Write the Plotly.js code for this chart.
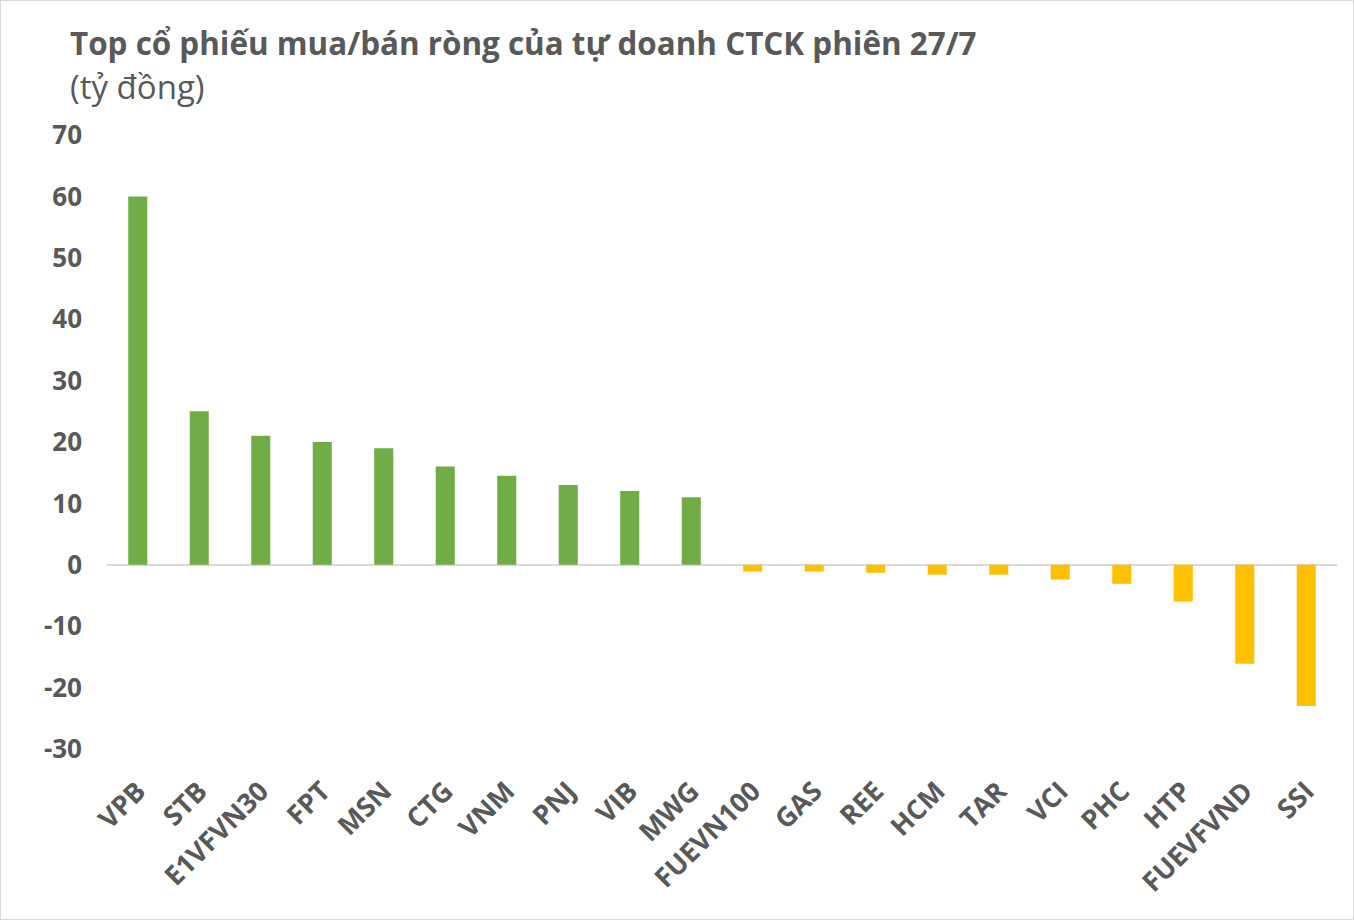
<!DOCTYPE html>
<html>
<head>
<meta charset="utf-8">
<script src="https://cdn.plot.ly/plotly-3.0.1.min.js"></script>
<style>
html,body{margin:0;padding:0;background:#fff;}
#chart{width:1352px;height:918px;border:1px solid #d9d9d9;}
</style>
</head>
<body>
<div id="chart"></div>
<script>
const categories = ["VPB","STB","E1VFVN30","FPT","MSN","CTG","VNM","PNJ","VIB","MWG","FUEVN100","GAS","REE","HCM","TAR","VCI","PHC","HTP","FUEVFVND","SSI"];
const values = [60, 25, 21, 20, 19, 16, 14.5, 13, 12, 11, -1.1, -1.1, -1.3, -1.6, -1.6, -2.4, -3.1, -6, -16.1, -23];
const yTickVals = [-30, -20, -10, 0, 10, 20, 30, 40, 50, 60, 70];
const yTickText = ["-30", "-20", "-10", "0", "10", "20", "30", "40", "50", "60", "70"];
const buyColor = "#70AD47";
const sellColor = "#FFC000";
const colors = values.map(v => v >= 0 ? buyColor : sellColor);
const titleText = "Top cổ phiếu mua/bán ròng của tự doanh CTCK phiên 27/7";
const subtitleText = "(tỷ đồng)";
const fontFam = "'Open Sans', 'Noto Sans', sans-serif";

const trace = {
  type: "bar",
  x: categories,
  y: values,
  marker: {color: colors},
  width: 0.31,
  hoverinfo: "x+y"
};

const ML = 106, MR = 16, MT = 134, MB = 170;
const PW = 1352 - ML - MR, PH = 918 - MT - MB;

const layout = {
  width: 1352, height: 918,
  margin: {l: ML, r: MR, t: MT, b: MB},
  paper_bgcolor: "#fff", plot_bgcolor: "#fff",
  showlegend: false,
  font: {family: fontFam, color: "#595959"},
  xaxis: {
    type: "category",
    tickangle: -45,
    tickfont: {size: 27, family: fontFam, color: "#595959", weight: "bold"},
    showgrid: false, showline: false, ticks: "",
    ticklabelstandoff: 20
  },
  yaxis: {
    range: [-30, 70],
    tickmode: "array",
    tickvals: yTickVals,
    ticktext: yTickText,
    showgrid: false, showline: false, ticks: "",
    zeroline: true, zerolinecolor: "#d9d9d9", zerolinewidth: 2,
    tickfont: {size: 26, family: fontFam, color: "#595959", weight: "bold"},
    ticklabelstandoff: 24
  },
  annotations: [
    {xref: "paper", yref: "paper", x: (67-ML)/PW, y: 1 + (MT-42)/PH, xanchor: "left", yanchor: "middle",
     text: "<b>" + titleText + "</b>", showarrow: false, font: {size: 31.4, family: fontFam, color: "#595959"}},
    {xref: "paper", yref: "paper", x: (67-ML)/PW, y: 1 + (MT-86)/PH, xanchor: "left", yanchor: "middle",
     text: subtitleText, showarrow: false, font: {size: 33, family: fontFam, color: "#595959"}}
  ]
};

Plotly.newPlot("chart", [trace], layout, {displayModeBar: false, staticPlot: true});
</script>
</body>
</html>
